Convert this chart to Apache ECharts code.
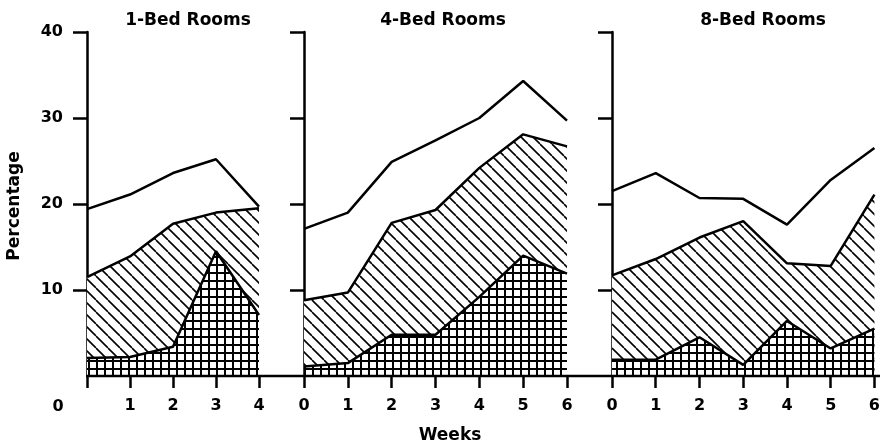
<!DOCTYPE html>
<html>
<head>
<meta charset="utf-8">
<script src="https://cdn.jsdelivr.net/npm/echarts@6/dist/echarts.min.js"></script>
<style>
html,body{margin:0;padding:0;background:#fff;}
#chart{width:883px;height:446px;}
</style>
</head>
<body>
<div id="chart"></div>
<script>
// ---- data ----
const panelTitles = ['1-Bed Rooms', '4-Bed Rooms', '8-Bed Rooms'];
const weeksShort = ['0', '1', '2', '3', '4'];
const weeksLong = ['0', '1', '2', '3', '4', '5', '6'];
const yTickValues = [10, 20, 30, 40];
const yZeroLabel = '0';
const yAxisTitle = 'Percentage';
const xAxisTitle = 'Weeks';

const oneBedTotal  = [19.4, 21.1, 23.6, 25.2, 19.7];
const oneBedMiddle = [11.5, 13.9, 17.7, 19.0, 19.5];
const oneBedBottom = [2.1, 2.2, 3.4, 14.5, 7.1];

const fourBedTotal  = [17.1, 19.0, 24.9, 27.4, 30.0, 34.3, 29.7];
const fourBedMiddle = [8.8, 9.7, 17.8, 19.3, 24.2, 28.1, 26.7];
const fourBedBottom = [1.1, 1.5, 4.8, 4.8, 9.2, 14.0, 11.9];

const eightBedTotal  = [21.5, 23.6, 20.7, 20.6, 17.6, 22.8, 26.5];
const eightBedMiddle = [11.7, 13.6, 16.1, 18.0, 13.1, 12.8, 21.1];
const eightBedBottom = [1.9, 1.9, 4.5, 1.3, 6.4, 3.2, 5.5];

// ---- patterns ----
function makeHatch() {
  const s = 12;
  const c = document.createElement('canvas');
  c.width = s; c.height = s;
  const g = c.getContext('2d');
  g.fillStyle = '#fff'; g.fillRect(0, 0, s, s);
  g.strokeStyle = '#000'; g.lineWidth = 1.6;
  for (const k of [-1, 0, 1]) {
    g.beginPath(); g.moveTo(k * s, 0); g.lineTo(k * s + s, s); g.stroke();
  }
  return c;
}
function makeCross() {
  const s = 8;
  const c = document.createElement('canvas');
  c.width = s; c.height = s;
  const g = c.getContext('2d');
  g.fillStyle = '#fff'; g.fillRect(0, 0, s, s);
  g.fillStyle = '#000';
  g.fillRect(0, 0, s, 2);
  g.fillRect(0, 0, 2, s);
  return c;
}
const hatchPattern = { image: makeHatch(), repeat: 'repeat' };
const crossPattern = { image: makeCross(), repeat: 'repeat' };

// ---- layout ----
const FONT = 'DejaVu Sans';
const LW = 2.5;
const grids = [
  { left: 87, top: 32, width: 172, height: 344 },
  { left: 304, top: 32, width: 263, height: 344 },
  { left: 612, top: 32, width: 263, height: 344 }
];
const panels = [
  { cats: weeksShort, total: oneBedTotal, middle: oneBedMiddle, bottom: oneBedBottom, hideZero: true, showY: true },
  { cats: weeksLong, total: fourBedTotal, middle: fourBedMiddle, bottom: fourBedBottom, hideZero: false, showY: false },
  { cats: weeksLong, total: eightBedTotal, middle: eightBedMiddle, bottom: eightBedBottom, hideZero: false, showY: false }
];
const titleX = [188, 443, 763];

const xAxes = [], yAxes = [], series = [];
panels.forEach((p, i) => {
  xAxes.push({
    type: 'category', gridIndex: i, data: p.cats, boundaryGap: false,
    axisLine: { show: false },
    axisTick: { show: true, length: 12, lineStyle: { color: '#000', width: LW } },
    axisLabel: {
      margin: 22, color: '#000', fontFamily: FONT, fontWeight: 'bold', fontSize: 16,
      formatter: v => (p.hideZero && v === '0') ? '' : v
    }
  });
  yAxes.push({
    type: 'value', gridIndex: i, min: 0, max: 40, interval: 10,
    splitLine: { show: false },
    axisLine: { show: true, lineStyle: { color: '#000', width: LW } },
    axisTick: { show: true, length: 14, customValues: yTickValues, lineStyle: { color: '#000', width: LW } },
    axisLabel: {
      show: p.showY, customValues: yTickValues, margin: 24,
      color: '#000', fontFamily: FONT, fontWeight: 'bold', fontSize: 16
    }
  });
  const lineStyle = { color: '#000', width: LW };
  series.push({
    type: 'line', xAxisIndex: i, yAxisIndex: i, data: p.middle,
    showSymbol: false, symbol: 'none', lineStyle, areaStyle: { color: hatchPattern, opacity: 1 }, z: 2
  });
  series.push({
    type: 'line', xAxisIndex: i, yAxisIndex: i, data: p.bottom,
    showSymbol: false, symbol: 'none', lineStyle, areaStyle: { color: crossPattern, opacity: 1 }, z: 3
  });
  series.push({
    type: 'line', xAxisIndex: i, yAxisIndex: i, data: p.total,
    showSymbol: false, symbol: 'none', lineStyle, z: 4
  });
});

const titleFont = 'bold 17px "DejaVu Sans"';
const digitFont = 'bold 16px "DejaVu Sans"';
const graphic = [
  { type: 'line', shape: { x1: 86, y1: 376, x2: 880, y2: 376 }, style: { stroke: '#000', lineWidth: LW }, z: 100 },
  { type: 'text', x: 58, y: 407, style: { text: yZeroLabel, font: digitFont, fill: '#000', textAlign: 'center', textVerticalAlign: 'middle' } },
  { type: 'text', x: 15, y: 206, rotation: Math.PI / 2, style: { text: yAxisTitle, font: titleFont, fill: '#000', textAlign: 'center', textVerticalAlign: 'middle' } },
  { type: 'text', x: 450, y: 436, style: { text: xAxisTitle, font: titleFont, fill: '#000', textAlign: 'center', textVerticalAlign: 'middle' } }
];
panelTitles.forEach((t, i) => {
  graphic.push({ type: 'text', x: titleX[i], y: 21, style: { text: t, font: titleFont, fill: '#000', textAlign: 'center', textVerticalAlign: 'middle' } });
});

const chart = echarts.init(document.getElementById('chart'), null, { renderer: 'canvas' });
chart.setOption({
  animation: false,
  backgroundColor: '#fff',
  grid: grids,
  xAxis: xAxes,
  yAxis: yAxes,
  series,
  graphic
});
</script>
</body>
</html>
